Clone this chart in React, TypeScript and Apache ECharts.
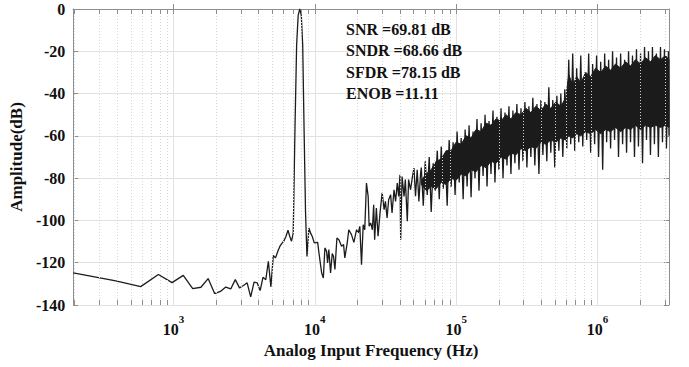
import React, { useEffect, useRef } from 'react';
import * as echarts from 'echarts';

// ---- data (frequency stored as log10(Hz), amplitude in dB) ----
const sparseLogFreq = [
  2.291, 2.592, 2.768, 2.893, 2.990, 3.069, 3.136, 3.194, 3.245, 3.291,
  3.332, 3.370, 3.405, 3.437, 3.467, 3.495, 3.521, 3.546, 3.570, 3.592,
  3.613, 3.633, 3.653, 3.671, 3.689, 3.706, 3.722, 3.738, 3.753, 3.768,
  3.782, 3.796, 3.810, 3.822, 3.835, 3.847, 3.859, 3.871, 3.882, 3.893,
  3.904, 3.914, 3.924, 3.934, 3.944,
  3.958, 3.970, 3.981, 3.996, 4.020, 4.029, 4.048, 4.060, 4.071, 4.083,
  4.090, 4.099, 4.111, 4.123, 4.132, 4.142, 4.156, 4.170, 4.189, 4.203,
  4.212, 4.229, 4.240, 4.259, 4.276, 4.295, 4.307, 4.318, 4.330, 4.342,
  4.353, 4.365, 4.377, 4.384, 4.395, 4.407, 4.416, 4.423, 4.435, 4.447,
  4.462, 4.476, 4.490, 4.499, 4.511, 4.522, 4.536, 4.546, 4.560, 4.571,
  4.583, 4.593, 4.602, 4.607, 4.617, 4.631, 4.640, 4.654, 4.663, 4.677,
  4.689, 4.701, 4.712, 4.724, 4.736, 4.748,
];
const sparseAmpDb = [
  -124.8, -128.6, -131.3, -125.6, -129.4, -126.0, -132.3, -131.6, -127.5, -134.6,
  -133.6, -131.5, -132.4, -128.0, -131.9, -130.8, -129.5, -136.2, -129.2, -129.5,
  -133.2, -126.9, -128.0, -119.3, -131.4, -116.6, -117.7, -114.6, -112.2, -110.7,
  -109.6, -107.5, -104.6, -107.5, -109.8, -106.0, -58.0, -17.0, -3.0, 0.0,
  -3.0, -17.0, -58.0, -96.0, -117.0,
  -103.6, -106.0, -107.5, -110.6, -110.4, -115.4, -124.8, -127.2, -113.0, -114.6,
  -120.1, -113.8, -124.8, -115.7, -117.0, -123.2, -108.3, -109.1, -112.2, -111.4,
  -117.7, -110.6, -104.4, -106.7, -110.4, -104.4, -105.9, -102.8, -120.9, -102.0,
  -104.4, -82.3, -88.6, -102.8, -101.2, -104.4, -92.6, -109.1, -94.1, -107.5,
  -95.7, -87.0, -94.9, -91.0, -98.8, -90.2, -87.8, -96.5, -85.5, -91.0,
  -82.3, -88.6, -78.4, -109.1, -79.2, -88.6, -80.7, -100.4, -80.7, -85.5,
  -79.9, -75.2, -88.6, -76.0, -91.0, -77.6,
];

const denseLogFreq = [
  4.753, 4.767, 4.781, 4.795, 4.809, 4.823, 4.837, 4.851, 4.866, 4.880,
  4.894, 4.908, 4.922, 4.936, 4.950, 4.964, 4.978, 4.992, 5.006, 5.021,
  5.035, 5.049, 5.063, 5.077, 5.091, 5.105, 5.119, 5.133, 5.147, 5.161,
  5.176, 5.190, 5.204, 5.218, 5.232, 5.246, 5.260, 5.274, 5.288, 5.302,
  5.317, 5.331, 5.345, 5.359, 5.373, 5.387, 5.401, 5.415, 5.429, 5.444,
  5.458, 5.472, 5.486, 5.500, 5.514, 5.528, 5.542, 5.556, 5.571, 5.585,
  5.599, 5.613, 5.627, 5.641, 5.655, 5.669, 5.683, 5.697, 5.712, 5.726,
  5.740, 5.754, 5.768, 5.782, 5.796, 5.810, 5.824, 5.838, 5.852, 5.867,
  5.881, 5.895, 5.909, 5.923, 5.937, 5.951, 5.965, 5.979, 5.993, 6.007,
  6.022, 6.036, 6.050, 6.064, 6.078, 6.092, 6.106, 6.120, 6.134, 6.148,
  6.163, 6.177, 6.191, 6.205, 6.219, 6.233, 6.247, 6.261, 6.275, 6.289,
  6.304, 6.318, 6.332, 6.346, 6.360, 6.374, 6.388, 6.402, 6.416, 6.430,
  6.445, 6.459, 6.473, 6.487, 6.501, 6.505,
];
const denseAmpDb = [
  -75, -93, -72, -88, -70, -96, -73, -86, -67, -90,
  -65, -85, -68, -93, -62, -84, -63, -88, -58, -82,
  -61, -90, -57, -84, -55, -89, -58, -80, -52, -86,
  -54, -79, -50, -84, -53, -78, -48, -82, -51, -76,
  -47, -80, -49, -74, -46, -78, -48, -73, -45, -76,
  -47, -72, -44, -75, -46, -70, -42, -74, -45, -78,
  -43, -69, -44, -72, -37, -68, -43, -75, -41, -67,
  -40, -70, -38, -66, -24, -64, -21, -67, -28, -63,
  -22, -65, -30, -62, -21, -68, -26, -64, -22, -70,
  -25, -76, -21, -63, -24, -66, -20, -62, -23, -70,
  -21, -64, -24, -68, -20, -63, -22, -70, -19, -65,
  -21, -73, -18, -62, -20, -69, -18, -64, -21, -70,
  -18, -63, -19, -66, -20, -60,
];

// solid core of the noise band (where the trace fills every pixel column)
const coreLogFreq = [
  4.753, 4.788, 4.823, 4.858, 4.894, 4.929, 4.964, 4.999, 5.035, 5.070,
  5.105, 5.140, 5.176, 5.211, 5.246, 5.281, 5.317, 5.352, 5.387, 5.422,
  5.458, 5.493, 5.528, 5.563, 5.599, 5.634, 5.669, 5.704, 5.740, 5.775,
  5.796, 5.824, 5.852, 5.881, 5.916, 5.951, 5.986, 6.022, 6.057, 6.092,
  6.127, 6.163, 6.198, 6.233, 6.268, 6.304, 6.339, 6.374, 6.409, 6.445,
  6.480, 6.505,
];
const coreTopDb = [
  -81, -78, -76, -72, -71, -67, -67, -63, -64, -60,
  -61, -57, -58, -54, -55, -52, -53, -50, -52, -49,
  -50, -47, -49, -46, -48, -45, -47, -44, -46, -42,
  -31, -36, -32, -35, -30, -32, -28, -30, -27, -29,
  -26, -28, -25, -27, -24, -26, -23, -25, -22, -24,
  -22, -24,
];
const coreBottomDb = [
  -83, -86, -84, -85, -82, -83, -80, -81, -78, -79,
  -76, -77, -74, -75, -72, -73, -70, -71, -68, -69,
  -66, -67, -65, -66, -63, -64, -62, -63, -61, -62,
  -60, -61, -59, -60, -58, -59, -57, -59, -57, -58,
  -56, -58, -56, -57, -55, -57, -55, -56, -55, -56,
  -55, -56,
];

const metricLines = ['SNR =69.81 dB', 'SNDR =68.66 dB', 'SFDR =78.15 dB', 'ENOB =11.11'];
const yTicks = { min: -140, max: 0, step: 20 };
const freqRangeHz = [195.3125, 3200000];
const minorGridHz = [
  200, 300, 400, 500, 600, 700, 800, 900,
  2000, 3000, 4000, 5000, 6000, 7000, 8000, 9000,
  20000, 30000, 40000, 50000, 60000, 70000, 80000, 90000,
  200000, 300000, 400000, 500000, 600000, 700000, 800000, 900000,
  2000000, 3000000,
];

const FONT = "'Liberation Serif', 'Times New Roman', Times, serif";
const FRAME = '#8e8e8e';
const INK = '#1c1c1c';

function toPoints(lf: number[], db: number[]) {
  return lf.map((v, i) => [Math.pow(10, v), db[i]]);
}

export default function App() {
  const ref = useRef<HTMLDivElement>(null);
  useEffect(() => {
    const chart = echarts.init(ref.current as HTMLDivElement, null, { renderer: 'svg' });
    const mainData = toPoints(sparseLogFreq.concat(denseLogFreq), sparseAmpDb.concat(denseAmpDb));
    const coreData = coreLogFreq.map((v, i) => [Math.pow(10, v), coreTopDb[i], coreBottomDb[i]]);
    const tickLenDb = 2.4;
    const markData: any[] = [];
    minorGridHz.forEach((f) => {
      markData.push({ xAxis: f, lineStyle: { type: [1, 2], color: '#d6d6d6', width: 1 } });
    });
    minorGridHz.forEach((f) => {
      markData.push([
        { coord: [f, yTicks.min], lineStyle: { type: 'solid', color: FRAME, width: 1 } },
        { coord: [f, yTicks.min + tickLenDb] },
      ]);
      markData.push([
        { coord: [f, yTicks.max], lineStyle: { type: 'solid', color: FRAME, width: 1 } },
        { coord: [f, yTicks.max - tickLenDb] },
      ]);
    });
    const xAxisBase = {
      type: 'log',
      logBase: 10,
      min: freqRangeHz[0],
      max: freqRangeHz[1],
    };
    const option: any = {
      animation: false,
      backgroundColor: '#ffffff',
      grid: { left: 71, right: 20, top: 9, bottom: 62 },
      xAxis: [
        {
          ...xAxisBase,
          position: 'bottom',
          name: 'Analog Input Frequency (Hz)',
          nameLocation: 'middle',
          nameGap: 29,
          nameTextStyle: { fontFamily: FONT, fontSize: 17, fontWeight: 'bold', color: '#111' },
          axisLine: { show: true, lineStyle: { color: FRAME, width: 1 } },
          axisTick: { show: true, inside: true, length: 5, lineStyle: { color: FRAME } },
          splitLine: { show: true, lineStyle: { color: '#e2e2e2', width: 1 } },
          axisLabel: {
            show: true,
            margin: 8,
            showMinLabel: false,
            showMaxLabel: false,
            formatter: (v: number) => '{b|10}{s|' + Math.round(Math.log10(v)) + '}',
            rich: {
              b: { fontFamily: FONT, fontSize: 16, fontWeight: 'bold', color: '#111', lineHeight: 24, verticalAlign: 'bottom' },
              s: { fontFamily: FONT, fontSize: 11, fontWeight: 'bold', color: '#111', lineHeight: 10, verticalAlign: 'top' },
            },
          },
        },
        {
          ...xAxisBase,
          position: 'top',
          axisLine: { show: true, lineStyle: { color: FRAME, width: 1 } },
          axisTick: { show: true, inside: true, length: 5, lineStyle: { color: FRAME } },
          splitLine: { show: false },
          axisLabel: { show: false },
        },
      ],
      yAxis: [
        {
          type: 'value',
          min: yTicks.min,
          max: yTicks.max,
          interval: yTicks.step,
          position: 'left',
          name: 'Amplitude(dB)',
          nameLocation: 'middle',
          nameGap: 31,
          nameTextStyle: { fontFamily: FONT, fontSize: 17, fontWeight: 'bold', color: '#111' },
          axisLine: { show: true, lineStyle: { color: FRAME, width: 1 } },
          axisTick: { show: true, inside: true, length: 5, lineStyle: { color: FRAME } },
          splitLine: { show: true, lineStyle: { color: '#e2e2e2', width: 1 } },
          axisLabel: { fontFamily: FONT, fontSize: 16, fontWeight: 'bold', color: '#111', margin: 8 },
        },
        {
          type: 'value',
          min: yTicks.min,
          max: yTicks.max,
          interval: yTicks.step,
          position: 'right',
          axisLine: { show: true, lineStyle: { color: FRAME, width: 1 } },
          axisTick: { show: true, inside: true, length: 5, lineStyle: { color: FRAME } },
          splitLine: { show: false },
          axisLabel: { show: false },
        },
      ],
      series: [
        {
          type: 'line',
          name: 'gridHelper',
          xAxisIndex: 0,
          yAxisIndex: 0,
          data: [],
          symbol: 'none',
          silent: true,
          z: 0,
          markLine: {
            silent: true,
            symbol: ['none', 'none'],
            label: { show: false },
            emphasis: { disabled: true },
            data: markData,
          },
        },
        {
          type: 'custom',
          name: 'noiseCore',
          xAxisIndex: 0,
          yAxisIndex: 0,
          data: coreData,
          encode: { x: 0, y: [1, 2] },
          silent: true,
          z: 2,
          clip: true,
          renderItem: (params: any, api: any) => {
            if (params.dataIndex !== 0) return null;
            const pts: number[][] = [];
            for (let i = 0; i < coreData.length; i++) pts.push(api.coord([coreData[i][0], coreData[i][1]]));
            for (let i = coreData.length - 1; i >= 0; i--) pts.push(api.coord([coreData[i][0], coreData[i][2]]));
            return { type: 'polygon', shape: { points: pts }, style: { fill: INK, stroke: INK, lineWidth: 1 } };
          },
        },
        {
          type: 'line',
          name: 'spectrum',
          xAxisIndex: 0,
          yAxisIndex: 0,
          data: mainData,
          symbol: 'none',
          silent: true,
          lineStyle: { color: INK, width: 1.3 },
          z: 3,
        },
      ],
      graphic: metricLines.map((t, i) => ({
        type: 'text',
        left: 346,
        top: 21 + i * 21.5,
        z: 10,
        style: {
          text: t,
          fontFamily: FONT,
          fontSize: 16,
          fontWeight: 'bold',
          fill: '#111',
        },
      })),
    };
    chart.setOption(option);
    return () => chart.dispose();
  }, []);
  return <div ref={ref} style={{ position: 'fixed', left: 0, top: 0, width: 689, height: 367 }} />;
}
